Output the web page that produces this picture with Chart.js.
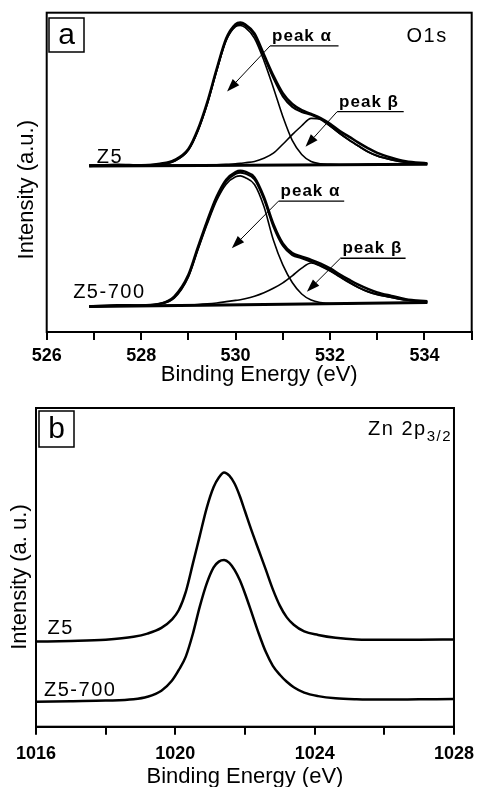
<!DOCTYPE html>
<html>
<head>
<meta charset="utf-8">
<script src="https://cdn.jsdelivr.net/npm/chart.js@4.4.1/dist/chart.umd.min.js"></script>
<style>
  html, body { margin: 0; padding: 0; background: #fff; overflow: hidden; }
  #wrapA { position: absolute; left: 0; top: 0; width: 483px; height: 390px; }
  #wrapB { position: absolute; left: 0; top: 390px; width: 483px; height: 400px; }
</style>
</head>
<body>
<div id="wrapA"><canvas id="chartA" width="483" height="390"></canvas></div>
<div id="wrapB"><canvas id="chartB" width="483" height="400"></canvas></div>
<script>
// ---- panel a: O1s spectra (binding energy in eV, intensity in arbitrary units) ----
var o1sEnergy = [526.9, 527.5, 528.0, 528.4, 528.7, 529.0, 529.2, 529.4, 529.6, 529.8,
                 530.0, 530.1, 530.2, 530.4, 530.6, 530.8, 531.0, 531.2, 531.4, 531.6,
                 531.8, 532.0, 532.2, 532.4, 532.6, 532.8, 533.0, 533.3, 533.6, 534.06];

// Z5
var z5Measured = [52.0, 52.4, 52.2, 52.7, 53.8, 57.3, 63.4, 72.0, 82.4, 91.9,
                  96.4, 96.9, 96.4, 93.5, 86.9, 80.3, 74.8, 71.4, 69.5, 68.3,
                  67.0, 65.2, 63.0, 61.2, 59.3, 57.6, 56.1, 54.6, 53.5, 52.8];
var z5Fit = [52.2, 52.2, 52.3, 52.5, 53.5, 57.0, 63.0, 71.5, 82.0, 91.5,
             96.0, 96.5, 96.0, 93.0, 86.3, 79.5, 73.8, 70.5, 68.9, 68.0,
             66.6, 64.6, 62.3, 60.2, 58.3, 56.5, 55.2, 54.0, 53.2, 52.7];
var z5Alpha = [52.2, 52.2, 52.3, 52.5, 53.5, 57.0, 63.0, 71.4, 81.8, 91.2,
               95.6, 96.0, 95.4, 92.0, 85.0, 76.5, 67.5, 60.0, 55.6, 53.4,
               52.7, 52.5, 52.4, 52.4, 52.4, 52.5, 52.5, 52.6, 52.6, 52.7];
var z5Beta = [52.2, 52.2, 52.3, 52.3, 52.3, 52.3, 52.3, 52.4, 52.4, 52.5,
              52.7, 52.8, 53.0, 53.4, 54.4, 56.0, 58.8, 61.8, 64.6, 66.9,
              66.6, 64.5, 62.2, 60.1, 58.2, 56.4, 55.1, 53.9, 53.1, 52.6];

// Z5-700
var z5700Measured = [8.0, 8.4, 8.3, 8.8, 11.1, 17.9, 26.5, 34.9, 42.4, 47.7,
                     50.1, 50.5, 50.2, 48.4, 42.3, 33.8, 27.7, 24.7, 23.6, 22.6,
                     21.4, 19.9, 18.1, 16.4, 14.8, 13.5, 12.4, 11.3, 10.3, 9.6];
var z5700Fit = [8.0, 8.2, 8.4, 8.9, 10.8, 17.5, 26.0, 34.4, 41.9, 47.1,
                49.5, 49.9, 49.6, 47.8, 41.6, 33.0, 27.0, 24.1, 23.1, 22.0,
                20.8, 19.3, 17.5, 15.7, 14.0, 12.7, 11.8, 10.9, 10.1, 9.5];
var z5700Alpha = [8.0, 8.2, 8.4, 8.8, 10.6, 17.2, 25.6, 33.8, 41.2, 46.3,
                  48.6, 48.9, 48.4, 46.2, 39.3, 28.8, 21.0, 15.5, 11.9, 10.0,
                  9.2, 8.9, 8.9, 8.9, 9.0, 9.0, 9.1, 9.1, 9.2, 9.2];
var z5700Beta = [8.0, 8.1, 8.2, 8.3, 8.4, 8.5, 8.6, 8.8, 9.1, 9.5,
                 9.9, 10.1, 10.4, 11.2, 12.3, 13.7, 15.4, 17.6, 20.0, 21.6,
                 20.6, 19.1, 17.3, 15.5, 13.9, 12.6, 11.7, 10.8, 10.0, 9.4];

// background lines under each spectrum
var o1sBgEnergy = [526.9, 534.06];
var z5Background = [52.0, 52.5];
var z5700Background = [8.0, 9.2];

// ---- panel b: Zn 2p3/2 spectra ----
var znEnergy = [1016, 1017, 1018, 1018.8, 1019.2, 1019.6, 1019.9, 1020.1, 1020.3, 1020.5,
                1020.7, 1020.9, 1021.1, 1021.25, 1021.4, 1021.55, 1021.7, 1021.85, 1022.0, 1022.2,
                1022.4, 1022.6, 1022.8, 1023.0, 1023.2, 1023.4, 1023.7, 1024.1, 1024.6, 1025.2,
                1026, 1027, 1028];
var znZ5 = [26.7, 26.9, 27.3, 28.2, 29.2, 31.0, 33.6, 36.6, 42.3, 51.0,
            59.8, 68.6, 75.2, 78.2, 79.8, 78.8, 76.3, 72.4, 67.6, 61.2,
            55.2, 49.2, 43.1, 38.0, 34.3, 32.0, 29.9, 28.8, 27.9, 27.4,
            27.3, 27.3, 27.4];
var znZ5700 = [7.8, 8.0, 8.2, 8.6, 9.4, 11.3, 14.4, 17.8, 22.0, 29.0,
               37.6, 44.9, 50.0, 51.8, 52.3, 51.4, 49.2, 46.0, 41.8, 35.5,
               29.1, 23.4, 19.1, 16.3, 14.1, 12.4, 10.7, 9.6, 8.9, 8.6,
               8.5, 8.6, 8.7];

var FONT = "'Liberation Sans', Arial, Helvetica, sans-serif";

function toPoints(xs, ys) {
    return xs.map(function (x, i) { return { x: x, y: ys[i] }; });
}

function lineSet(label, xs, ys, width) {
    return {
        label: label,
        data: toPoints(xs, ys),
        borderColor: '#000',
        borderWidth: width,
        pointRadius: 0,
        fill: false,
        cubicInterpolationMode: 'monotone'
    };
}

function xAxis(min, max, step, labelEvery, tickPad, titlePad, height) {
    return {
        type: 'linear',
        min: min,
        max: max,
        grid: { display: true, drawOnChartArea: false, drawTicks: true, tickLength: 8, color: '#000', lineWidth: 2 },
        border: { display: true, color: '#000', width: 2 },
        ticks: {
            stepSize: step,
            autoSkip: false,
            maxRotation: 0,
            padding: tickPad,
            color: '#000',
            font: { family: FONT, size: 18, weight: 'bold' },
            callback: function (v) { return v % labelEvery === 0 ? String(v) : ''; }
        },
        title: {
            display: true,
            text: 'Binding Energy (eV)',
            color: '#000',
            font: { family: FONT, size: 22 },
            padding: { top: 0, bottom: titlePad }
        },
        afterFit: function (scale) { scale.height = height; }
    };
}

function drawArrow(ctx, x0, y0, x1, y1) {
    var ang = Math.atan2(y1 - y0, x1 - x0);
    var len = 13, half = 4.5;
    var bx = x1 - len * Math.cos(ang), by = y1 - len * Math.sin(ang);
    ctx.beginPath();
    ctx.moveTo(x0, y0);
    ctx.lineTo(bx, by);
    ctx.stroke();
    ctx.beginPath();
    ctx.moveTo(x1, y1);
    ctx.lineTo(bx + half * Math.sin(ang), by - half * Math.cos(ang));
    ctx.lineTo(bx - half * Math.sin(ang), by + half * Math.cos(ang));
    ctx.closePath();
    ctx.fill();
}

// frame, panel letter, element tag, y title, sample names, peak arrows
var decorPlugin = {
    id: 'decor',
    afterDraw: function (chart, args, opts) {
        var ctx = chart.ctx, area = chart.chartArea;
        var sx = chart.scales.x, sy = chart.scales.y;
        ctx.save();
        ctx.fillStyle = '#000';
        ctx.strokeStyle = '#000';

        // full box round the plot
        ctx.lineWidth = 2;
        ctx.strokeRect(area.left, area.top, area.right - area.left, area.bottom - area.top);

        // panel letter in its little box
        var lb = opts.letterBox;
        ctx.lineWidth = 1.5;
        ctx.strokeRect(area.left + lb.dx, area.top + lb.dy, lb.w, lb.h);
        ctx.font = '30px ' + FONT;
        ctx.textAlign = 'center';
        ctx.textBaseline = 'middle';
        ctx.fillText(opts.letter, area.left + lb.dx + lb.w / 2, area.top + lb.dy + lb.h / 2 + 1);

        // element / core level tag at top right
        var tag = opts.tag;
        ctx.textBaseline = 'alphabetic';
        ctx.textAlign = 'left';
        ctx.letterSpacing = '1.5px';
        ctx.font = '15px ' + FONT;
        var subW = tag.sub ? ctx.measureText(tag.sub).width : 0;
        ctx.font = '20px ' + FONT;
        var mainW = ctx.measureText(tag.text).width;
        var tx = area.right - tag.dRight - subW - mainW;
        ctx.fillText(tag.text, tx, area.top + tag.dy);
        if (tag.sub) {
            ctx.font = '15px ' + FONT;
            ctx.fillText(tag.sub, tx + mainW, area.top + tag.dy + 6);
        }

        // rotated y title
        var yt = opts.yTitle;
        ctx.letterSpacing = '0px';
        ctx.save();
        ctx.translate(area.left + yt.dx, area.top + yt.dy);
        ctx.rotate(-Math.PI / 2);
        ctx.font = '22px ' + FONT;
        ctx.textAlign = 'center';
        ctx.textBaseline = 'middle';
        ctx.fillText(yt.text, 0, 0);
        ctx.restore();

        // sample names next to their baselines
        ctx.font = '20px ' + FONT;
        ctx.letterSpacing = '1.5px';
        ctx.textAlign = 'left';
        ctx.textBaseline = 'alphabetic';
        opts.samples.forEach(function (s) {
            ctx.fillText(s.text, sx.getPixelForValue(s.e), sy.getPixelForValue(s.v));
        });

        // underlined peak names with arrows
        ctx.font = 'bold 17px ' + FONT;
        ctx.letterSpacing = '1px';
        (opts.notes || []).forEach(function (n) {
            var x0 = sx.getPixelForValue(n.lineFrom);
            var x1 = sx.getPixelForValue(n.lineTo);
            var yl = sy.getPixelForValue(n.lineAt);
            ctx.fillText(n.text, x0 + 2, yl - 5);
            ctx.lineWidth = 1.3;
            ctx.beginPath();
            ctx.moveTo(x0, yl);
            ctx.lineTo(x1, yl);
            ctx.stroke();
            ctx.lineWidth = 1;
            drawArrow(ctx, x0, yl, sx.getPixelForValue(n.tipE), sy.getPixelForValue(n.tipV));
        });
        ctx.restore();
    }
};

// ---- chart a ----
new Chart(document.getElementById('chartA'), {
    type: 'line',
    data: {
        datasets: [
            lineSet('Z5 background', o1sBgEnergy, z5Background, 3),
            lineSet('Z5 peak alpha', o1sEnergy, z5Alpha, 1.6),
            lineSet('Z5 peak beta', o1sEnergy, z5Beta, 1.6),
            lineSet('Z5 fit', o1sEnergy, z5Fit, 2),
            lineSet('Z5', o1sEnergy, z5Measured, 2.5),
            lineSet('Z5-700 background', o1sBgEnergy, z5700Background, 3),
            lineSet('Z5-700 peak alpha', o1sEnergy, z5700Alpha, 1.6),
            lineSet('Z5-700 peak beta', o1sEnergy, z5700Beta, 1.6),
            lineSet('Z5-700 fit', o1sEnergy, z5700Fit, 2),
            lineSet('Z5-700', o1sEnergy, z5700Measured, 2.5)
        ]
    },
    options: {
        responsive: false,
        animation: false,
        devicePixelRatio: 1,
        layout: { padding: { left: 46.7, right: 11.3, top: 12.7, bottom: 0 } },
        scales: {
            x: xAxis(526, 535, 1, 2, 5, 2, 58),
            y: { type: 'linear', display: false, min: 0, max: 100 }
        },
        plugins: {
            legend: { display: false },
            tooltip: { enabled: false },
            decor: {
                letter: 'a',
                letterBox: { dx: 2.3, dy: 5.3, w: 35, h: 34 },
                tag: { text: 'O1s', sub: '', dRight: 24, dy: 29 },
                yTitle: { text: 'Intensity (a.u.)', dx: -19.7, dy: 177 },
                samples: [
                    { text: 'Z5', e: 527.06, v: 52.8 },
                    { text: 'Z5-700', e: 526.56, v: 10.6 }
                ],
                notes: [
                    { text: 'peak α', lineFrom: 530.73, lineTo: 532.18, lineAt: 89.6, tipE: 529.82, tipV: 75.3 },
                    { text: 'peak β', lineFrom: 532.15, lineTo: 533.56, lineAt: 69.0, tipE: 531.48, tipV: 58.0 },
                    { text: 'peak α', lineFrom: 530.91, lineTo: 532.3, lineAt: 41.0, tipE: 529.92, tipV: 26.2 },
                    { text: 'peak β', lineFrom: 532.22, lineTo: 533.6, lineAt: 23.1, tipE: 531.51, tipV: 12.6 }
                ]
            }
        }
    },
    plugins: [decorPlugin]
});

// ---- chart b ----
new Chart(document.getElementById('chartB'), {
    type: 'line',
    data: {
        datasets: [
            lineSet('Z5', znEnergy, znZ5, 2.5),
            lineSet('Z5-700', znEnergy, znZ5700, 2.5)
        ]
    },
    options: {
        responsive: false,
        animation: false,
        devicePixelRatio: 1,
        layout: { padding: { left: 36, right: 21.3, top: 18, bottom: 0 } },
        scales: {
            x: xAxis(1016, 1028, 2, 4, 9, 0, 63.3),
            y: { type: 'linear', display: false, min: 0, max: 100 }
        },
        plugins: {
            legend: { display: false },
            tooltip: { enabled: false },
            decor: {
                letter: 'b',
                letterBox: { dx: 3, dy: 3, w: 35, h: 36 },
                tag: { text: 'Zn 2p', sub: '3/2', dRight: 2, dy: 27 },
                yTitle: { text: 'Intensity (a. u.)', dx: -16, dy: 169 },
                samples: [
                    { text: 'Z5', e: 1016.33, v: 29.1 },
                    { text: 'Z5-700', e: 1016.23, v: 9.6 }
                ],
                notes: []
            }
        }
    },
    plugins: [decorPlugin]
});
</script>
</body>
</html>
